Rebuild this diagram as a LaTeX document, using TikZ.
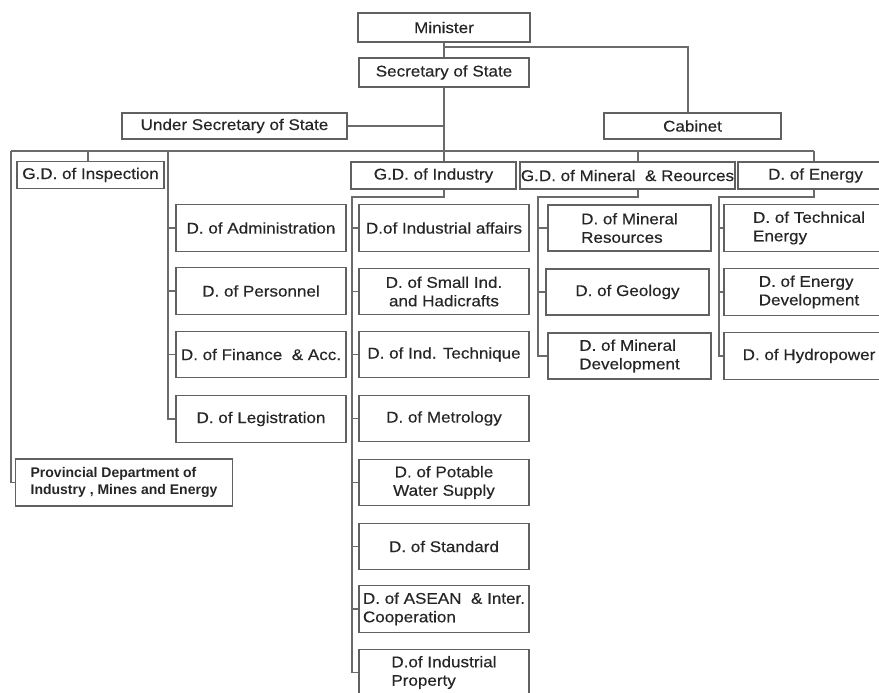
\documentclass[tikz,border=0pt]{standalone}
\usepackage{fontspec}
\setmainfont{Liberation Sans}[FakeStretch=1.1,FakeBold=0.35]
\newfontfamily\plainsans{Liberation Sans}
\begin{document}
\begin{tikzpicture}[x=1pt,y=-1pt,
  box/.style={draw=black!62, line width=1.2pt, fill=white, inner sep=0pt,
    align=center, text=black!85, font=\fontsize{15.5}{18.5}\selectfont},
  hbox/.style={box, minimum width=#1, minimum height=27pt},
  colbox/.style={box, minimum width=170pt, minimum height=46.5pt},
  minbox/.style={box, minimum width=163pt, minimum height=46pt},
  conn/.style={draw=black!58, line width=1.2pt}]
\useasboundingbox (0,0) rectangle (879,693);
\fill[white] (0,0) rectangle (879,693);
\clip (0,0) rectangle (879,693);

% top levels
\node[box, minimum width=172pt, minimum height=29pt] (min) at (444,27.5) {Minister};
\node[box, minimum width=170pt, minimum height=29pt] (sec) at (444,72.5) {Secretary of State};
\node[box, minimum width=225pt, minimum height=26pt] (usec) at (234.5,126) {Under Secretary of State};
\node[box, minimum width=177pt, minimum height=26pt] (cab) at (692.5,126) {Cabinet};

% general departments
\node[hbox=147pt] (insp) at (90.5,175) {G.D. of Inspection};
\node[hbox=165pt] (gdind) at (433.5,175.5) {G.D. of Industry};
\node[hbox=215pt] (gdmin) at (627.5,175.5) {G.D. of Mineral \ \& Reources};
\node[hbox=155pt] (gden) at (815.5,175.5) {D. of Energy};

% administration column
\node[colbox] (adm1) at (261,228) {D. of Administration};
\node[colbox] (adm2) at (261,291) {D. of Personnel};
\node[colbox] (adm3) at (261,354.5) {D. of Finance \ \& Acc.};
\node[colbox] (adm4) at (261,419) {D. of Legistration};

% provincial
\node[box, minimum width=217pt, minimum height=47pt, align=left,
  font=\plainsans\bfseries\fontsize{14}{17.7}\selectfont] (prov) at (124,482.5)
  {Provincial Department of\\Industry , Mines and Energy};

% industry column
\node[colbox] (ind1) at (444,228) {D.of Industrial affairs};
\node[colbox] (ind2) at (444,291.5) {D. of Small Ind.\\and Hadicrafts};
\node[colbox] (ind3) at (444,354.5) {D. of Ind. Technique};
\node[colbox] (ind4) at (444,418.5) {D. of Metrology};
\node[colbox] (ind5) at (444,482.5) {D. of Potable\\Water Supply};
\node[colbox] (ind6) at (444,546.5) {D. of Standard};
\node[colbox, align=left] (ind7) at (444,609) {D. of ASEAN \ \& Inter.\\Cooperation};
\node[colbox, align=left] (ind8) at (444,672.5) {D.of Industrial\\Property};

% mineral column
\node[minbox, align=left] (mn1) at (629.5,228) {D. of Mineral\\Resources};
\node[minbox] (mn2) at (627.5,292) {D. of Geology};
\node[minbox, align=left] (mn3) at (629.5,356) {D. of Mineral\\Development};

% energy column
\node[colbox, align=left] (en1) at (809,228) {D. of Technical\\Energy};
\node[colbox, align=left] (en2) at (809,292) {D. of Energy\\Development};
\node[colbox] (en3) at (809,356) {D. of Hydropower};

% connectors
\coordinate (busL) at (11,151);
\coordinate (busR) at (814,151);
\coordinate (mj) at (444,47);
\coordinate (aspine) at (168,151);
\coordinate (ispine) at (352,197);
\coordinate (mspine) at (538,197);
\coordinate (espine) at (719,197);

\draw[conn] (busL) -- (busR);
\draw[conn] (min.south) -- (sec.north);
\draw[conn] (mj) -| ([xshift=-4.5pt]cab.north);
\draw[conn] (sec.south) -- (sec.south |- gdind.north);
\draw[conn] (usec.east) -- (usec.east -| sec.south);

\draw[conn] ([xshift=-2.5pt]insp.north) -- ([xshift=-2.5pt]insp.north |- busL);
\draw[conn] ([xshift=10.5pt]gdmin.north) -- ([xshift=10.5pt]gdmin.north |- busL);
\draw[conn] (gden.north -| busR) -- (busR);
\draw[conn] (busL) |- (prov.west);

\draw[conn] (aspine) |- (adm4.west);
\foreach \n in {adm1,adm2,adm3} \draw[conn] (aspine |- \n.west) -- (\n.west);

\draw[conn] (gdind.south -| sec.south) |- (ispine) -- (ispine |- ind8.west) -- (ind8.west);
\foreach \n in {ind1,ind2,ind3,ind4,ind5,ind6,ind7} \draw[conn] (ispine |- \n.west) -- (\n.west);

\draw[conn] ([xshift=10.5pt]gdmin.south) |- (mspine) -- (mspine |- mn3.west) -- (mn3.west);
\foreach \n in {mn1,mn2} \draw[conn] (mspine |- \n.west) -- (\n.west);

\draw[conn] (gden.south -| busR) |- (espine) -- (espine |- en3.west) -- (en3.west);
\foreach \n in {en1,en2} \draw[conn] (espine |- \n.west) -- (\n.west);
\end{tikzpicture}
\end{document}
